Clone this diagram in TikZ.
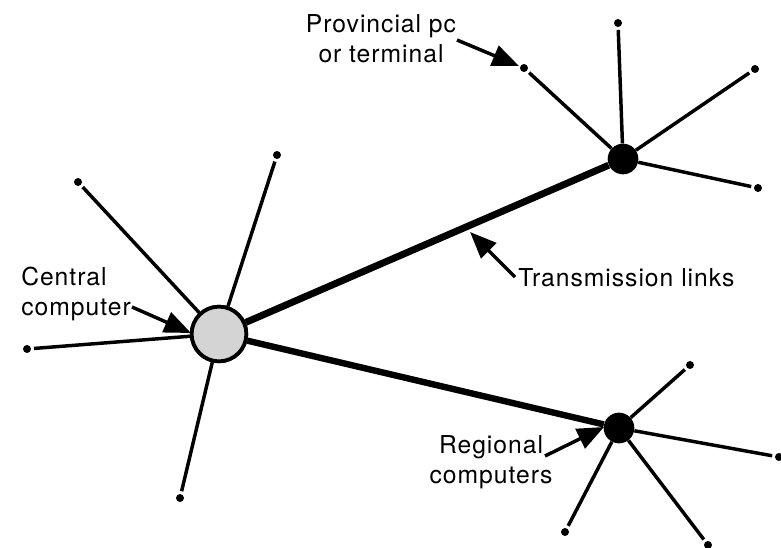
\documentclass[tikz,border=0pt]{standalone}
\usepackage{fontspec}
\setmainfont{TeX Gyre Heros}[LetterSpace=4]
\usetikzlibrary{arrows.meta}
\begin{document}
\begin{tikzpicture}[x=0.75pt,y=-0.75pt,
  hubmain/.style={circle,draw=black,line width=2.8pt,fill=black!17,minimum size=41pt,inner sep=0pt},
  hub/.style={circle,fill=black,minimum size=23pt,inner sep=0pt},
  term/.style={circle,fill=black,minimum size=6pt,inner sep=0pt,outer sep=2.2pt},
  spoke/.style={line width=2.6pt},
  trunk/.style={line width=5.2pt},
  lbl/.style={font=\fontsize{18.5}{22.5}\selectfont,inner sep=0pt},
  pointer/.style={line width=2.6pt,-{Triangle[length=20pt,width=16pt]}}]
\useasboundingbox (0,0) rectangle (781,548);

% computers
\node[hubmain] (C) at (219,334) {};
\node[hub] (U) at (623,159) {};
\node[hub] (L) at (619,428) {};

% terminals
\node[term] (c1) at (78,182) {};
\node[term] (c2) at (277,155) {};
\node[term] (c3) at (27,349) {};
\node[term] (c4) at (180,498) {};
\node[term] (u1) at (524,68) {};
\node[term] (u2) at (618,23) {};
\node[term] (u3) at (755,69) {};
\node[term] (u4) at (758,188) {};
\node[term] (l1) at (690,365) {};
\node[term] (l2) at (779,457) {};
\node[term] (l3) at (565,532) {};
\node[term] (l4) at (708,545) {};

% transmission links
\draw[trunk] (C) -- (U);
\draw[trunk,line width=4.8pt] (C) -- (L);

% local lines
\foreach \t in {c1,c2,c3,c4} \draw[spoke] (C) -- (\t);
\foreach \t in {u1,u2,u3,u4} \draw[spoke] (U) -- (\t);
\foreach \t in {l1,l2,l3,l4} \draw[spoke] (L) -- (\t);
\node[hubmain] at (C) {};

% labels (anchored on the baseline of the last line)
\node[lbl,anchor=base,align=center] (prov) at (381,63) {Provincial pc\\or terminal};
\node[lbl,anchor=base west,align=left] (cent) at (21,316) {Central\\computer};
\node[lbl,anchor=base west] (trans) at (518,287) {Transmission links};
\node[lbl,anchor=base,align=center] (reg) at (491,483) {Regional\\computers};

% pointers
\coordinate (p0) at (457,40);  \coordinate (p1) at (519,66);
\coordinate (q0) at (132,307); \coordinate (q1) at (191,333);
\coordinate (r0) at (515,277); \coordinate (r1) at (470,232);
\coordinate (s0) at (545,456); \coordinate (s1) at (604,427);
\draw[pointer] (p0) -- (p1);
\draw[pointer] (q0) -- (q1);
\draw[pointer] (r0) -- (r1);
\draw[pointer] (s0) -- (s1);
\end{tikzpicture}
\end{document}
